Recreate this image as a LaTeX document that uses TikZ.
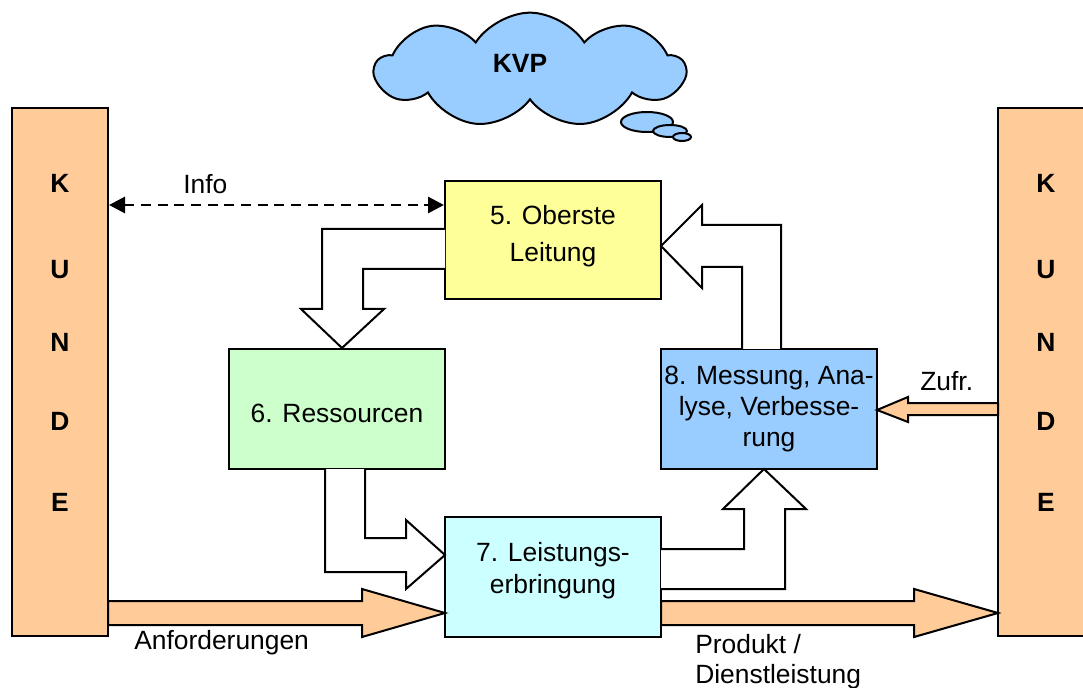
\documentclass[tikz,border=0pt]{standalone}
\usepackage{fontspec}
\setmainfont{Liberation Sans}
\usetikzlibrary{arrows.meta,shapes.symbols}
\definecolor{corange}{HTML}{FFCC99}
\definecolor{cyellow}{HTML}{FFFF99}
\definecolor{cgreen}{HTML}{CCFFCC}
\definecolor{ccyan}{HTML}{CCFFFF}
\definecolor{cblue}{HTML}{99CCFF}
\newcommand{\myfs}{\fontsize{19.8}{24}\selectfont}
\begin{document}
\begin{tikzpicture}[x=0.75pt,y=-0.75pt,line join=miter,
  box/.style={draw=black,line width=1.5pt,rectangle,inner sep=0pt,minimum width=162pt,minimum height=90pt},
  btxt/.style={inner sep=0pt,align=center},
  bar/.style={draw=black,line width=1.5pt,rectangle,inner sep=0pt,fill=corange,minimum width=72pt,minimum height=396pt},
  letter/.style={font=\myfs\bfseries,inner sep=0pt},
  lbl/.style={font=\myfs,inner sep=0pt},
  blk/.style={draw=black,fill=white,line width=1.5pt},
  oarr/.style={draw=black,fill=corange,line width=1.5pt},
  info/.style={line width=2.2pt,dash pattern=on 7.5pt off 5pt,{Triangle[length=12pt,width=12pt]}-{Triangle[length=12pt,width=12pt]}}
]
\useasboundingbox (0,0) rectangle (1083,688);
\clip (0,0) rectangle (1083,688);

% customer bars
\node[bar] (kl) at (60,372) {};
\node[bar] (kr) at (1046,372) {};
\foreach \l/\yy in {K/193,U/279,N/352,D/431,E/511}{
  \node[letter,anchor=base] (kl-\l) at (60,\yy) {\l};
  \node[letter,anchor=base] (kr-\l) at (1046,\yy) {\l};
}

% cloud
\node[cloud,draw=black,fill=cblue,line width=1.5pt,cloud puffs=9,cloud puff arc=115,aspect=2.6,minimum width=232pt,minimum height=86pt,inner sep=0pt] (kvp) at (530,70) {};
\node[font=\myfs\bfseries,inner sep=0pt] (kvpt) at (520,63) {KVP};
\draw[draw=black,fill=cblue,line width=1.5pt] (647,122) ellipse [x radius=26,y radius=10];
\draw[draw=black,fill=cblue,line width=1.5pt] (670,131) ellipse [x radius=17,y radius=6];
\draw[draw=black,fill=cblue,line width=1.5pt] (682,137) ellipse [x radius=9,y radius=4];

% process boxes
\node[box,fill=cyellow,minimum height=88.5pt] (b5) at (553,240) {};
\node[btxt,font=\fontsize{19.8}{27.75}\selectfont] (b5t) at ([yshift=2.5pt]b5.center) {5. Oberste\\Leitung};
\node[box,fill=cgreen] (b6) at (337,409) {};
\node[btxt,font=\myfs] (b6t) at ([yshift=-3pt]b6.center) {6. Ressourcen};
\node[box,fill=ccyan] (b7) at (553,577) {};
\node[btxt,font=\fontsize{19.8}{24}\selectfont] (b7t) at ([yshift=5pt]b7.center) {7. Leistungs-\\erbringung};
\node[box,fill=cblue] (b8) at (769,409) {};
\node[btxt,font=\fontsize{19.8}{23.6}\selectfont] (b8t) at (b8.center) {8. Messung, Ana-\\lyse, Verbesse-\\rung};

% info arrow
\coordinate (iy) at (0,205);
\draw[info] (kl.east |- iy) -- (b5.west |- iy);
\node[lbl,anchor=base west] (tinfo) at (183,194) {Info};

% block arrows
\draw[blk] (445,229) -- (322,229) -- (322,309) -- (301,309) -- (342,348) -- (384,309) -- (363,309) -- (363,269) -- (445,269);
\draw[blk] (781,349) -- (781,225) -- (702,225) -- (702,205) -- (661,246) -- (702,288) -- (702,267) -- (742,267) -- (742,349);
\draw[blk] (325,469) -- (325,572) -- (406,572) -- (406,589) -- (445,555) -- (406,520) -- (406,538) -- (365,538) -- (365,469);
\draw[blk] (661,549) -- (744,549) -- (744,509) -- (723,509) -- (764,469) -- (806,509) -- (785,509) -- (785,589) -- (661,589);

% orange arrows
\draw[oarr] (108,601) -- (362,601) -- (362,589) -- (445,613) -- (362,637) -- (362,625) -- (108,625) -- cycle;
\draw[oarr] (661,601) -- (914,601) -- (914,589) -- (998,613) -- (914,637) -- (914,625) -- (661,625) -- cycle;
\draw[oarr] (998,403) -- (908,403) -- (908,397) -- (877,410) -- (908,422) -- (908,415) -- (998,415) -- cycle;

% labels
\node[lbl,anchor=base west] (tanf) at (134,649) {Anforderungen};
\node[lbl,anchor=base west] (tprod1) at (695,653) {Produkt /};
\node[lbl,anchor=base west] (tprod2) at (695,683) {Dienstleistung};
\node[lbl,anchor=base west] (tzufr) at (920,390) {Zufr.};
\end{tikzpicture}
\end{document}
